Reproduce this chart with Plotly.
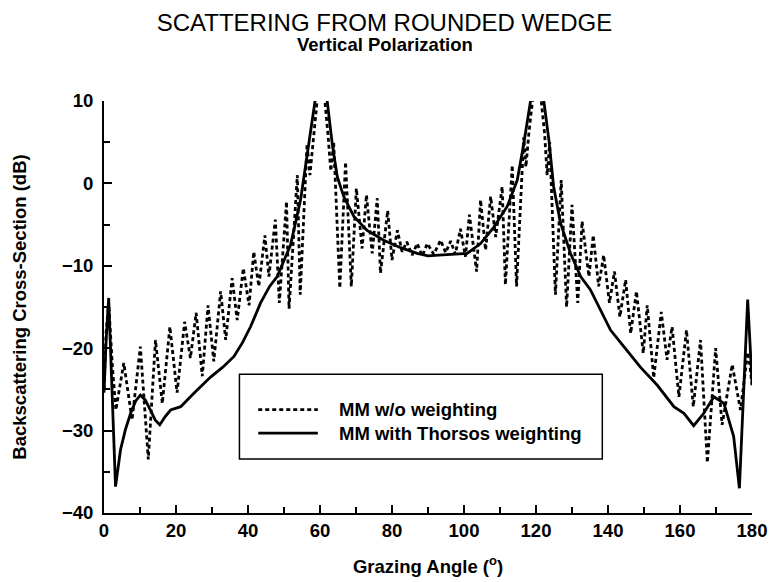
import plotly.graph_objects as go

# ---------------- data ----------------
# MM with Thorsos weighting (solid)
thorsos_angle = [0, 0.6, 1.3, 2.2, 3.2, 4.6, 6.0, 7.4, 8.8, 10.1, 11.5, 12.9, 14.2, 15.5,
                 17.0, 18.5, 21.3, 24.9, 29.6, 33.0, 36.1, 38.5, 40.7, 43.5, 46.0, 48.1,
                 51.8, 54.6, 56.4, 58.75, 60.3, 62.0, 63.4, 64.8, 66.6, 69.4, 73.1, 77.7,
                 82.4, 87.0, 90.0, 93.0, 97.0, 100.9, 104.6, 108.3, 112.0, 114.8, 116.6,
                 118.5, 120.3, 122.2, 123.6, 124.9, 126.8, 129.6, 132.4, 135.1, 137.9,
                 140.7, 144.4, 149.0, 153.7, 158.3, 161.1, 163.8, 166.6, 169.4, 172.2,
                 174.9, 176.5, 177.6, 178.8, 179.4, 180]
thorsos_db = [-25.4, -19.0, -13.9, -25.0, -36.8, -32.3, -29.8, -27.9, -26.4, -25.7, -26.3,
              -27.5, -28.7, -29.3, -28.3, -27.5, -27.1, -25.5, -23.5, -22.3, -21.0, -19.3,
              -17.4, -14.5, -12.5, -11.3, -7.5, -2.0, 3.0, 10.0, 15.0, 10.0, 4.8, 0.8,
              -1.6, -4.0, -5.7, -6.9, -7.8, -8.5, -8.8, -8.7, -8.6, -8.5, -7.3, -5.3,
              -2.8, 0.4, 4.8, 9.7, 15.0, 9.9, 5.2, -0.4, -4.8, -8.5, -11.3, -12.9, -15.4,
              -17.8, -19.8, -22.3, -24.5, -27.1, -27.9, -29.4, -27.9, -25.9, -26.7, -30.7,
              -37.0, -25.0, -14.1, -19.0, -24.2]

# MM w/o weighting (dashed)
noweight_angle = [0, 0.6, 1.3, 2.3, 3.3, 5.5, 7.8, 10.1, 12.3, 14.3, 16.2, 18.3, 20.3,
                  22.4, 24.0, 25.6, 27.3, 28.9, 30.5, 32.4, 33.8, 35.6, 37.0, 38.7, 40.3,
                  41.6, 43.0, 44.7, 45.8, 47.6, 48.7, 50.7, 51.4, 53.7, 54.5, 56.4, 57.2,
                  58.2, 60.3, 62.2, 63.0, 63.8, 65.5, 67.1, 68.7, 70.1, 71.7, 72.9, 74.5,
                  75.9, 76.8, 78.8, 80.0, 81.5, 82.8, 84.1, 85.6, 87.0, 88.4, 89.8, 91.6,
                  93.5, 94.9, 96.3, 97.6, 99.0, 100.4, 101.5, 103.5, 104.6, 106.0, 107.4,
                  108.8, 110.6, 111.5, 113.4, 114.6, 116.6, 117.2, 118.0, 120.3, 122.4,
                  123.1, 123.8, 125.4, 127.0, 128.5, 130.0, 131.6, 132.8, 134.7, 135.9,
                  137.4, 138.8, 140.4, 141.8, 143.3, 144.9, 146.3, 147.9, 149.8, 150.9,
                  152.7, 154.8, 156.4, 157.8, 159.7, 161.8, 163.7, 165.7, 167.6, 169.9,
                  171.7, 174.5, 176.8, 178.8, 179.4, 180]
noweight_db = [-25.0, -18.0, -14.5, -22.0, -27.5, -21.8, -28.7, -19.8, -33.5, -19.0, -26.7,
               -17.4, -25.4, -16.8, -21.2, -15.7, -23.4, -14.8, -21.6, -13.1, -19.0, -11.5,
               -16.6, -10.3, -14.8, -8.3, -12.5, -6.3, -11.3, -4.4, -14.5, -2.2, -15.2, 1.0,
               -13.5, 4.8, 1.0, 6.0, 15.0, 6.0, 1.5, 5.0, -12.7, 2.6, -12.5, -0.6, -7.9,
               -1.4, -8.5, -1.8, -10.9, -3.3, -9.3, -5.7, -8.3, -7.1, -8.7, -7.3, -8.8,
               -7.3, -8.6, -6.9, -8.4, -7.0, -8.6, -5.5, -8.9, -3.8, -10.7, -2.0, -8.1,
               -1.6, -6.5, -0.4, -12.3, 2.2, -12.5, 5.6, 2.0, 6.0, 15.0, 6.0, 1.0, 5.0,
               -13.5, 0.4, -15.0, -2.6, -14.5, -4.6, -11.3, -6.3, -12.5, -8.7, -14.5,
               -10.7, -16.2, -11.7, -18.2, -13.1, -20.6, -14.8, -23.6, -15.6, -21.4, -17.4,
               -25.9, -17.8, -27.1, -19.0, -33.9, -20.0, -29.3, -22.0, -27.5, -20.5, -22.0,
               -24.5]

x_tick_values = [0, 20, 40, 60, 80, 100, 120, 140, 160, 180]
y_tick_values = [-40, -30, -20, -10, 0, 10]
legend_labels = ["MM w/o weighting", "MM with Thorsos weighting"]

# ---------------- figure ----------------
FONT = "Liberation Sans, Arial, Helvetica, sans-serif"
bold = dict(family=FONT, size=18.5, color="black", weight="bold")

fig = go.Figure()
fig.add_trace(go.Scatter(x=noweight_angle, y=noweight_db, mode="lines",
                         name=legend_labels[0],
                         line=dict(color="black", width=2.8, dash="4px,3px")))
fig.add_trace(go.Scatter(x=thorsos_angle, y=thorsos_db, mode="lines",
                         name=legend_labels[1],
                         line=dict(color="black", width=2.8)))

axis_common = dict(showline=True, linecolor="black", linewidth=2, mirror=False,
                   ticks="inside", ticklen=8, tickwidth=1.5, tickcolor="black",
                   showgrid=False, zeroline=False, tickfont=bold, automargin=False,
                   ticklabeloverflow="allow")

fig.update_xaxes(range=[0, 180], tickvals=x_tick_values,
                 minor=dict(dtick=10, tick0=0, ticks="inside", ticklen=6,
                            tickwidth=1.5, tickcolor="black"),
                 title=dict(text="Grazing Angle (<sup>o</sup>)", font=bold, standoff=20),
                 **axis_common)
fig.update_yaxes(range=[-40, 10], tickvals=y_tick_values, ticklabelstandoff=5,
                 minor=dict(dtick=5, tick0=0, ticks="inside", ticklen=6,
                            tickwidth=1.5, tickcolor="black"),
                 title=dict(text="Backscattering Cross-Section (dB)", font=bold, standoff=30),
                 **axis_common)

# hand-built legend box (matches the wide boxed legend of the original)
fig.add_shape(type="rect", xref="paper", yref="paper", x0=0.209, x1=0.769, y0=0.131, y1=0.337,
              line=dict(color="black", width=1.5), fillcolor="white", layer="above")
fig.add_shape(type="line", xref="paper", yref="paper", x0=0.238, x1=0.330, y0=0.251, y1=0.251,
              line=dict(color="black", width=2.8, dash="4px,3px"))
fig.add_shape(type="line", xref="paper", yref="paper", x0=0.238, x1=0.330, y0=0.194, y1=0.194,
              line=dict(color="black", width=2.8))
for lab, yy in zip(legend_labels, [0.251, 0.194]):
    fig.add_annotation(text=lab, xref="paper", yref="paper", x=0.359, y=yy,
                       xanchor="left", yanchor="middle", showarrow=False, font=bold)

fig.add_annotation(text="Vertical Polarization", xref="paper", yref="paper",
                   x=0.4335, y=1.136, xanchor="center", yanchor="middle", showarrow=False,
                   font=dict(family=FONT, size=18.5, color="black", weight="bold"))

fig.update_layout(
    width=769, height=582,
    margin=dict(l=104, r=17, t=101, b=69),
    paper_bgcolor="white", plot_bgcolor="white",
    showlegend=False,
    title=dict(text="SCATTERING FROM ROUNDED WEDGE", xref="container", yref="container",
               x=0.5, y=0.962, xanchor="center", yanchor="middle",
               font=dict(family=FONT, size=24, color="black")),
)

fig.write_html("out.html")
